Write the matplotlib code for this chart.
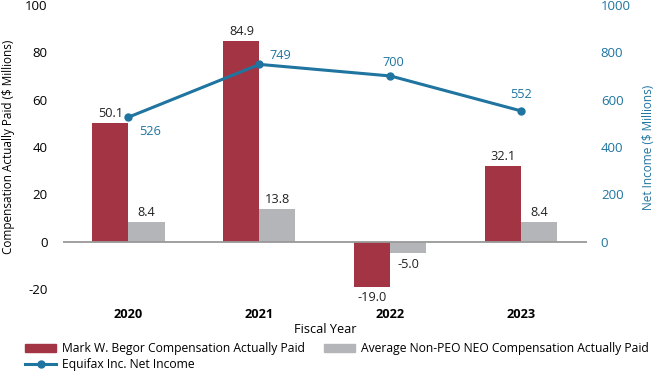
import matplotlib.pyplot as plt
import numpy as np
from matplotlib.lines import Line2D
from matplotlib.patches import Patch

plt.rcParams["font.family"] = ["Open Sans", "DejaVu Sans"]
plt.rcParams["axes.unicode_minus"] = False

years = ["2020", "2021", "2022", "2023"]
ceo_cap = [50.1, 84.9, -19.0, 32.1]
neo_cap = [8.4, 13.8, -5.0, 8.4]
net_income = [526, 749, 700, 552]

red = "#A33444"
gray = "#B4B5B9"
teal = "#1F74A0"

fig = plt.figure(figsize=(6.54, 3.74), dpi=100)
ax = fig.add_axes([0.0963, 0.2273, 0.8012, 0.7594])
ax2 = ax.twinx()

x = np.arange(len(years))
w = 0.275
b1 = ax.bar(x - w / 2, ceo_cap, w, color=red, zorder=2)
b2 = ax.bar(x + w / 2, neo_cap, w, color=gray, zorder=2)
ax.axhline(0, color="#999999", lw=1.3, zorder=3)

for rect, v in zip(list(b1) + list(b2), ceo_cap + neo_cap):
    cx = rect.get_x() + rect.get_width() / 2
    if v >= 0:
        ax.annotate(f"{v:.1f}", (cx, v), xytext=(0, 2), textcoords="offset points",
                    ha="center", va="bottom", fontsize=9.2, color="#222222")
    else:
        ax.annotate(f"{v:.1f}", (cx, v), xytext=(0, -3), textcoords="offset points",
                    ha="center", va="top", fontsize=9.2, color="#222222")

ax.set_xlim(-0.5, 3.5)
ax.set_ylim(-20, 100)
ax.set_yticks(np.arange(-20, 101, 20))
ax.set_xticks(x)
ax.set_xticklabels(years, fontweight="bold", fontsize=9.2)
ax.tick_params(axis="x", length=0, pad=14)
ax.tick_params(axis="y", length=0, labelsize=9.5, pad=11)
ax.set_xlabel("Fiscal Year", fontsize=9.2, labelpad=1)
ax.set_ylabel("Compensation Actually Paid ($ Millions)", fontsize=8.5, labelpad=7)

ax2.plot(x, net_income, color=teal, lw=2.2, marker="o", ms=5, zorder=4)
ax2.set_ylim(-200, 1000)
ax2.set_yticks(np.arange(0, 1001, 200))
ax2.tick_params(axis="y", length=0, labelsize=9.5, colors=teal, pad=10)
ax2.set_ylabel("Net Income ($ Millions)", fontsize=8.5, color=teal, labelpad=8)

offsets = [(8, -6, "left", "top"), (7, 2, "left", "bottom"),
           (2, 5, "center", "bottom"), (0, 7, "center", "bottom")]
for xi, v, (dx, dy, ha, va) in zip(x, net_income, offsets):
    ax2.annotate(f"{v}", (xi, v), xytext=(dx, dy), textcoords="offset points",
                 ha=ha, va=va, fontsize=9.2, color=teal)

for a in (ax, ax2):
    for s in a.spines.values():
        s.set_visible(False)

handles = [
    Patch(color=red, label="Mark W. Begor Compensation Actually Paid"),
    Line2D([], [], color=teal, lw=2.2, marker="o", ms=5, label="Equifax Inc. Net Income"),
    Patch(color=gray, label="Average Non-PEO NEO Compensation Actually Paid"),
]
fig.legend(handles=handles, ncol=2, loc="upper left", bbox_to_anchor=(0.038, 0.085),
           frameon=False, fontsize=8.7, handlelength=2.6, handleheight=0.6,
           handletextpad=0.45, columnspacing=1.6, labelspacing=0.2, borderaxespad=0,
           borderpad=0)

fig.savefig("out.png", dpi=100)
